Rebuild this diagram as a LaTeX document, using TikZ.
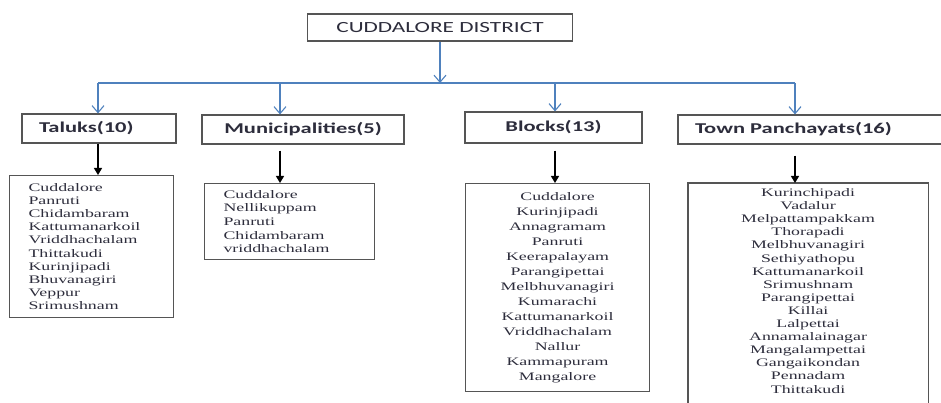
\documentclass[tikz,border=0pt]{standalone}
\usepackage{fontspec}
\usetikzlibrary{arrows.meta,calc}
\newfontfamily\headfont{Carlito}[FakeStretch=1.5]
\newfontfamily\listfont{Liberation Serif}[FakeStretch=1.55]
\definecolor{linkblue}{RGB}{79,129,189}
\definecolor{boxgray}{RGB}{85,85,85}
\definecolor{inkgray}{RGB}{45,45,60}

\begin{document}
\begin{tikzpicture}[x=1pt, y=-1pt,
		headbox/.style={draw=boxgray, line width=1.1pt, inner sep=0pt, text=inkgray,
			font=\headfont\fontsize{15.5}{18}\selectfont},
		rowbox/.style={headbox, minimum height=29pt, font=\headfont\bfseries\fontsize{15}{18}\selectfont},
		listbox/.style={draw=boxgray, line width=1.1pt, inner sep=0pt, text=inkgray, anchor=north west},
		bluelink/.style={linkblue, line width=1.1pt},
		bluearrow/.style={bluelink, -{Straight Barb[length=7pt,width=12pt]}},
		blackarrow/.style={black, line width=1.3pt, -{Triangle[length=7pt,width=8pt]}}]
		\clip (0,0) rectangle (941,403);
		
		\node[headbox, minimum width=265pt, minimum height=27pt] (district) at (440,27.5) {CUDDALORE DISTRICT};
		
		\node[rowbox, minimum width=154pt, text width=120pt, align=left] (taluks) at (99,128.5) {Taluks(10)};
		\node[rowbox, minimum width=202pt] (munis) at (303,129.5) {Municipalities(5)};
		\node[rowbox, minimum width=177pt, minimum height=31pt] (blocks) at (553.5,127.5) {Blocks(13)};
		\node[rowbox, minimum width=290pt, text width=256pt, align=left] (towns) at (823,129.5) {Town Panchayats(16)};
		
		\coordinate (bar) at (0,83);
		\coordinate (c1) at (98,0);
		\coordinate (c2) at (280,0);
		\coordinate (c3) at (555,0);
		\coordinate (c4) at (795,0);
		
		\draw[bluelink] (c1 |- bar) -- (c4 |- bar);
		\draw[bluearrow] (district.south) -- (district.south |- bar);
		\foreach \c/\n in {c1/taluks, c2/munis, c3/blocks, c4/towns}
			\draw[bluearrow] (\c |- bar) -- (\c |- \n.north);
		
		\begin{scope}[font=\listfont\fontsize{11.5}{13.2}\selectfont]
			\node[listbox, minimum width=164pt, minimum height=142pt, text width=126pt, align=left] (taluklist) at (9,175)
				{Cuddalore\\Panruti\\Chidambaram\\Kattumanarkoil\\Vriddhachalam\\Thittakudi\\Kurinjipadi\\Bhuvanagiri\\Veppur\\Srimushnam};
			\node[listbox, minimum width=170pt, minimum height=76pt, text width=132pt, align=left,
				font=\listfont\fontsize{11.5}{13.6}\selectfont] (munilist) at (204,183)
				{Cuddalore\\Nellikuppam\\Panruti\\Chidambaram\\vriddhachalam};
			\node[listbox, minimum width=184pt, minimum height=208pt, text width=170pt, align=center,
				font=\listfont\fontsize{11.5}{15}\selectfont] (blocklist) at (465,183)
				{Cuddalore\\Kurinjipadi\\Annagramam\\Panruti\\Keerapalayam\\Parangipettai\\Melbhuvanagiri\\Kumarachi\\Kattumanarkoil\\Vriddhachalam\\Nallur\\Kammapuram\\Mangalore};
			% box runs off the bottom edge
			\node[listbox, draw=none, minimum width=239pt, inner ysep=5pt, text width=225pt, align=center,
				font=\listfont\fontsize{11.5}{13.1}\selectfont] (townlist) at (688,183)
				{Kurinchipadi\\Vadalur\\Melpattampakkam\\Thorapadi\\Melbhuvanagiri\\Sethiyathopu\\Kattumanarkoil\\Srimushnam\\Parangipettai\\Killai\\Lalpettai\\Annamalainagar\\Mangalampettai\\Gangaikondan\\Pennadam\\Thittakudi};
			\draw[draw=boxgray, line width=1.1pt] (townlist.north west) rectangle ($(townlist.north east)+(0,240)$);
		\end{scope}
		
		\draw[blackarrow] (c1 |- taluks.south) -- (c1 |- taluklist.north);
		\draw[blackarrow] ($(c2 |- munis.south)+(0,6)$) -- (c2 |- munilist.north);
		\draw[blackarrow] ($(c3 |- blocks.south)+(0,7)$) -- (c3 |- blocklist.north);
		\draw[blackarrow] ($(c4 |- towns.south)+(0,11)$) -- (c4 |- townlist.north);
	\end{tikzpicture}
\end{document}
